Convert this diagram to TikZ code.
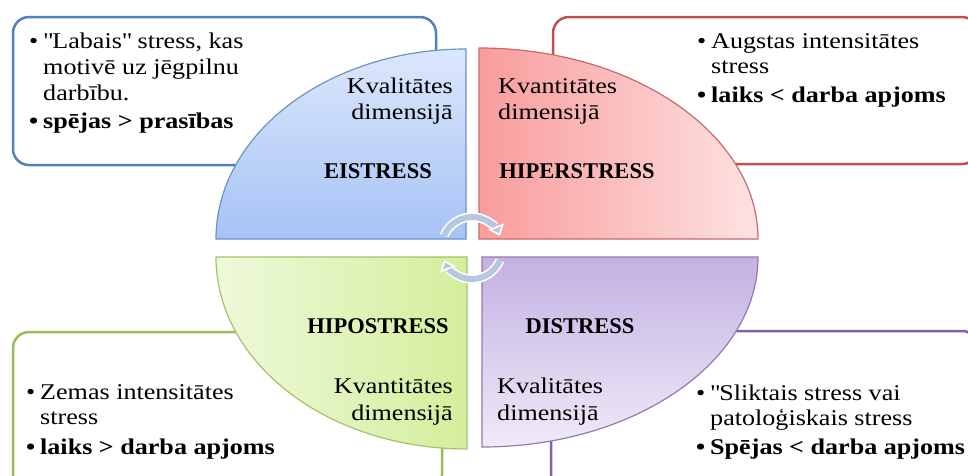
\documentclass[tikz,border=0pt]{standalone}
\usepackage{fontspec}
\setmainfont{Liberation Serif}[FakeStretch=1.16]
\newfontfamily\quadfont{Liberation Serif}
\usetikzlibrary{arrows.meta}
\definecolor{azure}{RGB}{79,129,189}
\definecolor{azurelight}{RGB}{220,231,251}
\definecolor{azuredeep}{RGB}{166,194,245}
\definecolor{brick}{RGB}{192,80,77}
\definecolor{brickdeep}{RGB}{249,156,156}
\definecolor{bricklight}{RGB}{254,226,226}
\definecolor{grass}{RGB}{155,187,89}
\definecolor{grasslight}{RGB}{238,249,218}
\definecolor{grassdeep}{RGB}{212,238,156}
\definecolor{lavender}{RGB}{128,100,162}
\definecolor{lavenderdeep}{RGB}{195,177,227}
\definecolor{lavenderlight}{RGB}{239,235,248}
\definecolor{steel}{RGB}{182,199,224}
\tikzset{infobox/.style={line width=2.5pt,rounded corners=16pt,fill=white}}
\tikzset{bluequad/.style={top color=azurelight,bottom color=azuredeep,draw=azure!85,line width=1.2pt}}
\tikzset{redquad/.style={left color=brickdeep,right color=bricklight,draw=brick!85,line width=1.2pt}}
\tikzset{greenquad/.style={left color=grasslight,right color=grassdeep,draw=grass!90,line width=1.2pt}}
\tikzset{purplequad/.style={top color=lavenderdeep,bottom color=lavenderlight,draw=lavender!85,line width=1.2pt}}
\tikzset{cyclearrow/.style={-{Triangle[fill=steel,width=17pt,length=10pt]},line width=1.6pt,white,double=steel,double distance=6pt}}
\tikzset{txt/.style={font=\fontsize{22.5}{27}\selectfont,inner sep=0pt}}
\tikzset{boldtxt/.style={font=\fontsize{22.5}{27}\selectfont\bfseries,inner sep=0pt}}
\tikzset{quadlabel/.style={font=\quadfont\fontsize{22.5}{27}\selectfont\bfseries,inner sep=0pt}}
\newcommand{\itm}{\makebox[14pt][l]{\textbullet}}

\begin{document}
\begin{tikzpicture}[x=1pt,y=-1pt]
	\useasboundingbox (0,0) rectangle (968,475);
	\clip (0,0) rectangle (968,475);
	\draw[infobox,draw=azure] (13,17) rectangle (436,165);
	\draw[infobox,draw=brick] (553,17) rectangle (978,164);
	\draw[infobox,draw=grass] (13,332) rectangle (442,490);
	\draw[infobox,draw=lavender] (551,331) rectangle (978,490);
	\shadedraw[bluequad] (466,49) -- (466,239) -- (216,239) .. controls (216,134) and (328,49) .. (466,49) -- cycle;
	\shadedraw[redquad] (479,48) .. controls (633,48) and (758,134) .. (758,239) -- (479,239) -- cycle;
	\shadedraw[greenquad] (216,257) -- (467,257) -- (467,449) .. controls (328,449) and (216,363) .. (216,257) -- cycle;
	\shadedraw[purplequad] (482,257) -- (758,257) .. controls (758,362) and (634,447) .. (482,447) -- cycle;
	\draw[cyclearrow] (472,247) ++(-158:30) arc[start angle=-158,end angle=-22,radius=30];
	\draw[cyclearrow] (472,249) ++(22:30) arc[start angle=22,end angle=158,radius=30];

	\node[txt,anchor=base east] (eiqual) at (453,93) {Kvalitātes};
	\node[txt,anchor=base east] (eidim) at (453,119) {dimensijā};
	\node[quadlabel,anchor=base] (eistress) at (378,178) {EISTRESS};
	\node[txt,anchor=base west] (hiquant) at (498,93) {Kvantitātes};
	\node[txt,anchor=base west] (hidim) at (498,119) {dimensijā};
	\node[quadlabel,anchor=base] (hiperstress) at (577,178) {HIPERSTRESS};
	\node[quadlabel,anchor=base] (hipostress) at (378,333) {HIPOSTRESS};
	\node[txt,anchor=base east] (hoquant) at (453,393) {Kvantitātes};
	\node[txt,anchor=base east] (hodim) at (453,420) {dimensijā};
	\node[quadlabel,anchor=base] (distress) at (580,333) {DISTRESS};
	\node[txt,anchor=base west] (diqual) at (497,393) {Kvalitātes};
	\node[txt,anchor=base west] (didim) at (497,420) {dimensijā};

	\node[txt,anchor=base west] (eione) at (29,48) {\itm\textquotedbl Labais\textquotedbl{} stress, kas};
	\node[txt,anchor=base west] (eitwo) at (43,74) {motivē uz jēgpilnu};
	\node[txt,anchor=base west] (eithree) at (43,100) {darbību.};
	\node[boldtxt,anchor=base west] (eifour) at (29,128) {\itm spējas > prasības};
	\node[txt,anchor=base west] (hione) at (697,48) {\itm Augstas intensitātes};
	\node[txt,anchor=base west] (hitwo) at (711,73) {stress};
	\node[boldtxt,anchor=base west] (hithree) at (697,102) {\itm laiks < darba apjoms};
	\node[txt,anchor=base west] (hoone) at (26,399) {\itm Zemas intensitātes};
	\node[txt,anchor=base west] (hotwo) at (40,424) {stress};
	\node[boldtxt,anchor=base west] (hothree) at (26,454) {\itm laiks > darba apjoms};
	\node[txt,anchor=base west] (dione) at (696,400) {\itm\textquotedbl Sliktais stress vai};
	\node[txt,anchor=base west] (ditwo) at (710,425) {patoloģiskais stress};
	\node[boldtxt,anchor=base west] (dithree) at (696,454) {\itm Spējas < darba apjoms};
\end{tikzpicture}
\end{document}
